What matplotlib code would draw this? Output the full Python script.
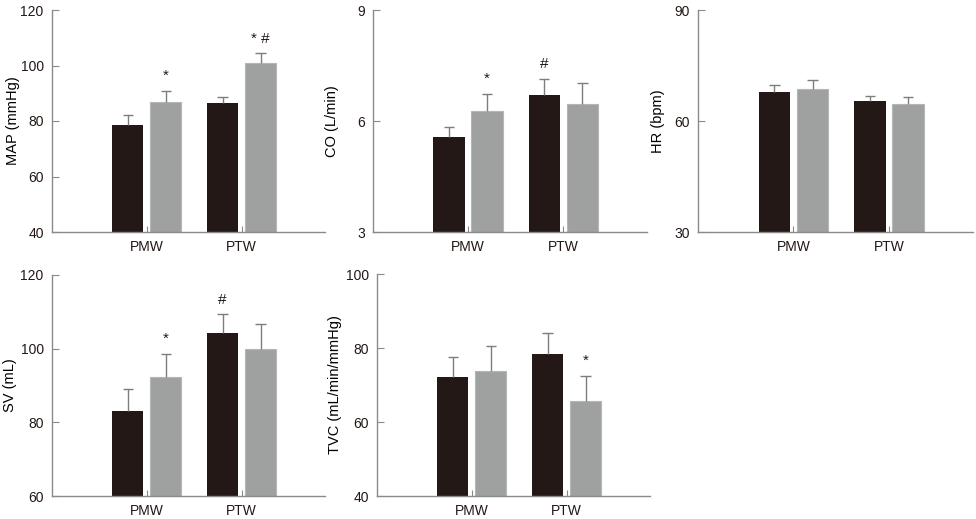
import matplotlib.pyplot as plt
import numpy as np

plt.rcParams['font.family'] = ['Liberation Sans', 'DejaVu Sans']

groups = ['PMW', 'PTW']

# mean and upper error (SD) for dark / gray bars
map_dark = [78.7, 86.4]
map_dark_err = [3.3, 2.2]
map_gray = [87.0, 101.0]
map_gray_err = [3.9, 3.4]

co_dark = [5.56, 6.71]
co_dark_err = [0.29, 0.42]
co_gray = [6.27, 6.46]
co_gray_err = [0.46, 0.56]

hr_dark = [67.9, 65.4]
hr_dark_err = [1.9, 1.4]
hr_gray = [68.6, 64.5]
hr_gray_err = [2.4, 2.1]

sv_dark = [83.2, 104.3]
sv_dark_err = [5.8, 5.0]
sv_gray = [92.2, 100.0]
sv_gray_err = [6.4, 6.6]

tvc_dark = [72.2, 78.3]
tvc_dark_err = [5.4, 5.8]
tvc_gray = [73.8, 65.8]
tvc_gray_err = [6.8, 6.7]

dark_color = '#231815'
gray_color = '#9fa0a0'
axis_color = '#8a8a8a'
err_color = '#7d7d7d'

panels = [
    # rect (px), ylabel, label x, ylim, yticks, data, annotations
    ([52, 10, 273, 222], 'MAP (mmHg)', -0.117, (40, 120), [40, 60, 80, 100, 120],
     (map_dark, map_dark_err, map_gray, map_gray_err),
     [(0, 'gray', '*'), (1, 'gray', '* #')]),
    ([373, 10, 274, 222], 'CO (L/min)', -0.124, (3, 9), [3, 6, 9],
     (co_dark, co_dark_err, co_gray, co_gray_err),
     [(0, 'gray', '*'), (1, 'dark', '#')]),
    ([698, 10, 275, 222], 'HR (bpm)', -0.12, (30, 90), [30, 60, 90],
     (hr_dark, hr_dark_err, hr_gray, hr_gray_err), []),
    ([52, 275, 273, 221], 'SV (mL)', -0.128, (60, 120), [60, 80, 100, 120],
     (sv_dark, sv_dark_err, sv_gray, sv_gray_err),
     [(0, 'gray', '*'), (1, 'dark', '#')]),
    ([377, 274, 273, 222], 'TVC (mL/min/mmHg)', -0.128, (40, 100), [40, 60, 80, 100],
     (tvc_dark, tvc_dark_err, tvc_gray, tvc_gray_err),
     [(1, 'gray', '*')]),
]

W, H = 976, 519
fig = plt.figure(figsize=(W / 100, H / 100), dpi=100)

x = np.arange(len(groups))
offset = 0.2
width = 0.33
cap = 0.055

for rect, ylabel, labx, ylim, yticks, data, notes in panels:
    l, t, w, h = rect
    ax = fig.add_axes([l / W, 1 - (t + h) / H, w / W, h / H])
    dark, dark_err, gray, gray_err = data

    ax.bar(x - offset, dark, width, color=dark_color, zorder=2)
    ax.bar(x + offset, gray, width, color=gray_color, edgecolor='#b5b6b6',
           linewidth=0.8, zorder=2)

    # upper error bars only
    for xs, vals, errs in [(x - offset, dark, dark_err), (x + offset, gray, gray_err)]:
        tops = np.array(vals) + np.array(errs)
        ax.vlines(xs, vals, tops, color=err_color, linewidth=1, zorder=3)
        ax.hlines(tops, xs - cap, xs + cap, color=err_color, linewidth=1, zorder=3)

    span = ylim[1] - ylim[0]
    for i, series, txt in notes:
        if series == 'dark':
            xpos, top = x[i] - offset, dark[i] + dark_err[i]
        else:
            xpos, top = x[i] + offset, gray[i] + gray_err[i]
        ax.text(xpos, top + span * 0.035, txt, ha='center', va='bottom',
                fontsize=11, color=dark_color)

    ax.set_xlim(-1.0, 1.88)
    ax.set_ylim(*ylim)
    ax.set_yticks(yticks)
    ax.set_xticks(x)
    ax.set_xticklabels(groups)
    ax.set_ylabel(ylabel, fontsize=10.5)
    ax.yaxis.set_label_coords(labx, 0.5)

    for side in ['top', 'right']:
        ax.spines[side].set_visible(False)
    for side in ['left', 'bottom']:
        ax.spines[side].set_color(axis_color)
        ax.spines[side].set_linewidth(1)
    ax.tick_params(axis='y', direction='in', length=5, color=axis_color,
                   labelsize=10, pad=6, labelcolor=dark_color)
    ax.tick_params(axis='x', direction='in', length=4, color=axis_color,
                   labelsize=10, pad=6, labelcolor=dark_color)

fig.savefig('out.png', dpi=100)
